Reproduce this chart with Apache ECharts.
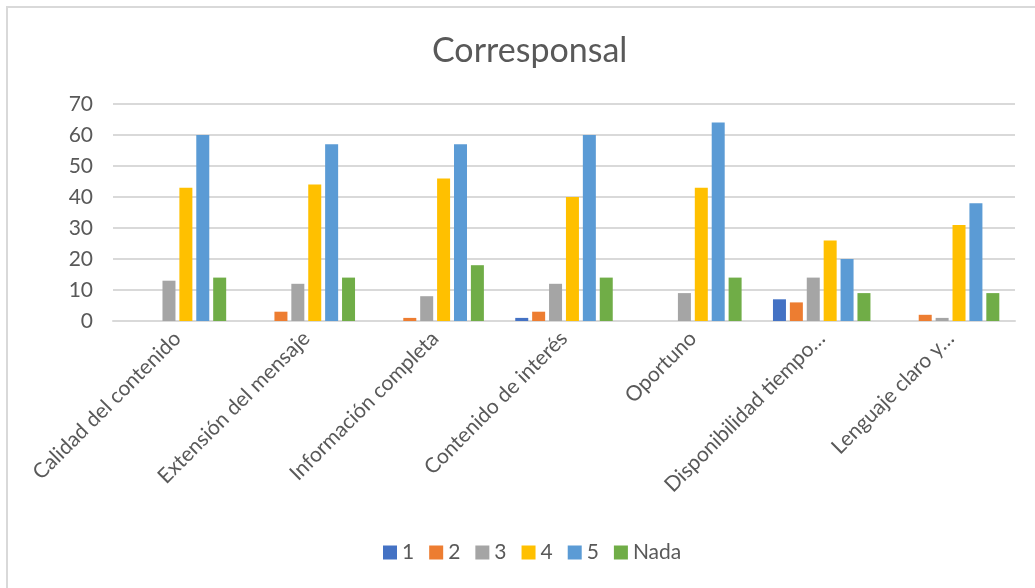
<!DOCTYPE html>
<html>
<head>
<meta charset="utf-8">
<title>Corresponsal</title>
<script src="https://cdn.jsdelivr.net/npm/echarts@6/dist/echarts.min.js"></script>
<style>
  html, body { margin: 0; padding: 0; background: #fff; }
  .chart-frame {
    position: absolute;
    left: 6px;
    top: 6px;
    width: 1040px;
    height: 600px;
    border: 2px solid #d9d9d9;
    box-sizing: border-box;
  }
  #chart { position: absolute; left: 0; top: 0; width: 1035px; height: 588px; }
</style>
</head>
<body>
<div class="chart-frame"></div>
<div id="chart"></div>
<script>
// categorias (las dos ultimas vienen truncadas en el original)
const categories = [
  'Calidad del contenido',
  'Extensión del mensaje',
  'Información completa',
  'Contenido de interés',
  'Oportuno',
  'Disponibilidad tiempo…',
  'Lenguaje claro y…'
]
const seriesNames = ['1', '2', '3', '4', '5', 'Nada']
const val1 = [0, 0, 0, 1, 0, 7, 0]
const val2 = [0, 3, 1, 3, 0, 6, 2]
const val3 = [13, 12, 8, 12, 9, 14, 1]
const val4 = [43, 44, 46, 40, 43, 26, 31]
const val5 = [60, 57, 57, 60, 64, 20, 38]
const valNada = [14, 14, 18, 14, 14, 9, 9]
const yTicks = [0, 10, 20, 30, 40, 50, 60, 70]

const colors = ['#4472c4', '#ed7d31', '#a5a5a5', '#ffc000', '#5b9bd5', '#70ad47']
const allValues = [val1, val2, val3, val4, val5, valNada]
const font = 'Lato, "Open Sans", sans-serif'

const el = document.getElementById('chart')
const chart = echarts.init(el)
const option = {
  animation: false,
  color: colors,
  textStyle: { fontFamily: font },
  title: {
    text: 'Corresponsal',
    left: 427,
    top: 29,
    textStyle: { fontSize: 34, fontWeight: 'normal', color: '#595959', fontFamily: font }
  },
  legend: {
    bottom: 20,
    left: 378,
    itemWidth: 14,
    itemHeight: 14,
    itemGap: 15,
    icon: 'rect',
    textStyle: { fontSize: 21, color: '#595959', fontFamily: font },
    data: seriesNames
  },
  grid: {
    left: 113,
    right: 20,
    top: 104,
    bottom: 267,
    containLabel: false
  },
  xAxis: {
    type: 'category',
    data: categories,
    axisLine: { lineStyle: { color: '#d9d9d9', width: 2 } },
    axisTick: { show: false },
    axisLabel: {
      rotate: 45,
      interval: 0,
      margin: 14,
      fontSize: 21,
      color: '#595959',
      fontFamily: font
    }
  },
  yAxis: {
    type: 'value',
    min: yTicks[0],
    max: yTicks[yTicks.length - 1],
    interval: 10,
    axisLine: { show: false },
    axisTick: { show: false },
    axisLabel: { fontSize: 21, color: '#595959', margin: 20, fontFamily: font },
    splitLine: { lineStyle: { color: '#d9d9d9', width: 2 } }
  },
  series: seriesNames.map((name, i) => ({
    name,
    type: 'bar',
    data: allValues[i],
    barWidth: 13,
    barGap: '30%'
  }))
}
chart.setOption(option)
</script>
</body>
</html>
